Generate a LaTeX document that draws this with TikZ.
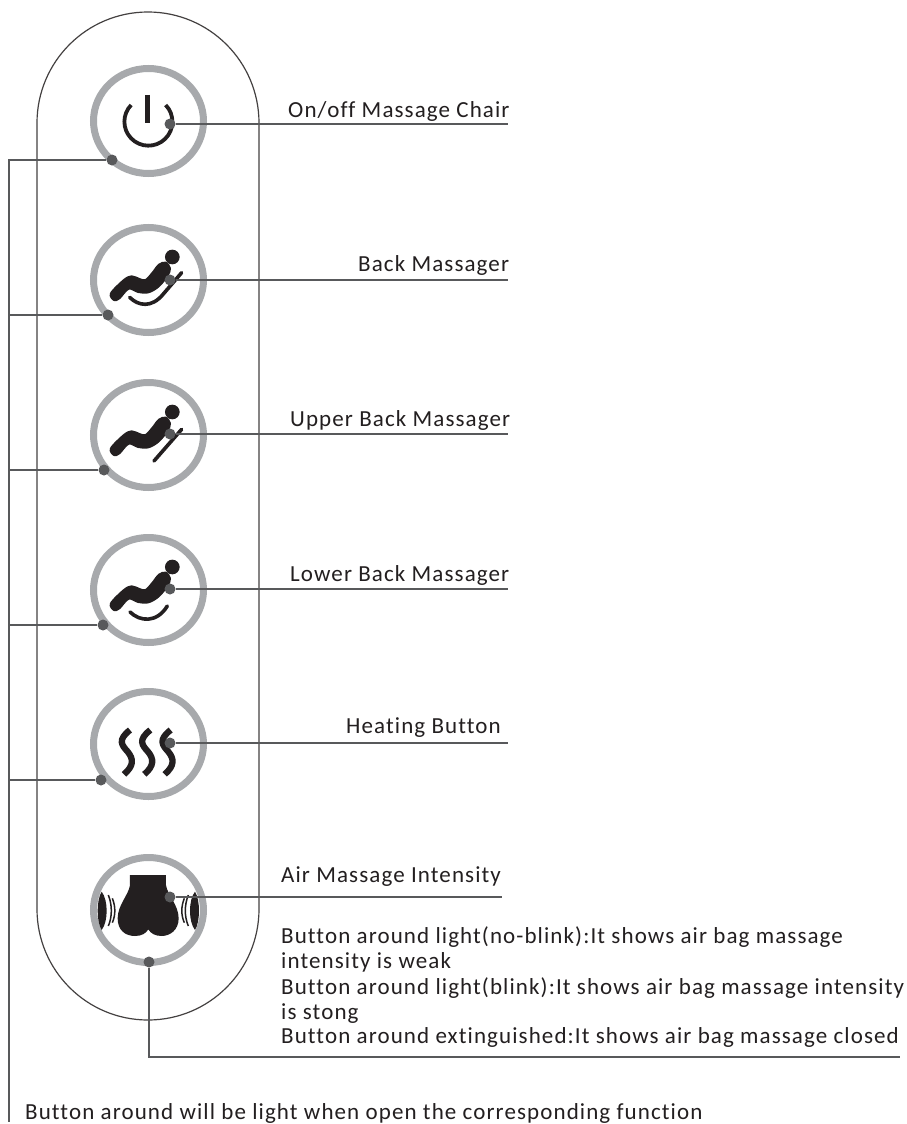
\documentclass[tikz,border=0pt]{standalone}
\usepackage{fontspec}
\usetikzlibrary{shapes.geometric}
\setmainfont{Carlito}[LetterSpace=4.8,Ligatures=NoCommon]
\definecolor{ringc}{HTML}{A7A9AC}
\definecolor{linec}{HTML}{58595B}
\definecolor{inkc}{HTML}{231F20}
\tikzset{
  x=1pt,y=-1pt,
  ring/.style={ellipse,draw=ringc,line width=7pt,minimum width=110pt,minimum height=105pt,inner sep=0pt,fill=white},
  dot/.style={circle,fill=linec,minimum size=11pt,inner sep=0pt},
  lead/.style={draw=linec,line width=1.8pt},
  shell/.style={draw=inkc!85!white,line width=1.2pt},
  lab/.style={anchor=base west,inner sep=0pt,font=\fontsize{23}{25}\selectfont,text=inkc},
  inkl/.style={draw=inkc,line cap=round},
  zoomed/.style={x=0.3333pt,y=-0.3333pt}
}
\newcommand{\chairbody}{\fill[inkc,draw=inkc,line width=2pt,line join=round] plot[smooth cycle,tension=0.55] coordinates {(93,190) (132,150) (155,139) (178,147) (197,150) (218,128) (237,104) (257,98) (270,115) (262,138) (235,170) (205,187) (175,186) (146,176) (118,205) (102,210)};
  \fill[inkc] (277,81) circle (22);}
\begin{document}
\begin{tikzpicture}
\useasboundingbox (0,0) rectangle (906,1124);
\fill[white] (0,0) rectangle (906,1124);
% shell
\draw[shell,rounded corners=111pt] (37,12) rectangle (259,1020);
% rings
\node[ring] (r1) at (148.5,121) {};
\node[ring] (r2) at (148.5,280) {};
\node[ring] (r3) at (148.5,435) {};
\node[ring] (r4) at (148.5,590) {};
\node[ring] (r5) at (148.5,744) {};
\node[ring] (r6) at (148.5,910) {};
% power icon
\begin{scope}[shift={(80,60)},zoomed]
\draw[draw=inkc,line width=3.8pt] (257,135) arc[start angle=-44,end angle=224,radius=72];
\draw[draw=inkc,line width=4.8pt] (203,105) -- (203,190);
\end{scope}
% back massager icon
\begin{scope}[shift={(80,230)},zoomed]
\chairbody
\draw[inkl,line width=3.6pt] (149,202) .. controls (175,228) and (215,235) .. (250,192) -- (305,128);
\end{scope}
% upper back icon
\begin{scope}[shift={(80,385)},zoomed]
\chairbody
\draw[inkl,line width=3.6pt] (222,228) -- (305,133);
\end{scope}
% lower back icon
\begin{scope}[shift={(80,540)},zoomed]
\chairbody
\draw[inkl,line width=3.6pt] (150,216) .. controls (180,245) and (230,250) .. (262,198);
\end{scope}
% heating icon
\begin{scope}[shift={(80,695)},zoomed]
\foreach \dx in {0,61,122}{
\draw[draw=inkc,line width=6.3pt,xshift=\dx*0.3333pt] (150,105) .. controls (112,135) and (125,150) .. (143,170) .. controls (161,192) and (162,212) .. (132,238);
}
\end{scope}
% air icon
\begin{scope}[shift={(80,850)},zoomed]
\fill[inkc] (150,75) -- (258,75) -- (258,105) .. controls (262,135) and (296,165) .. (296,205) .. controls (296,240) and (270,258) .. (245,258) .. controls (225,258) and (212,250) .. (205,238) .. controls (198,250) and (185,258) .. (165,258) .. controls (135,258) and (113,240) .. (113,205) .. controls (113,165) and (146,135) .. (150,105) -- cycle;
\foreach \m in {1,-1}{
\begin{scope}[xshift=205*0.3333pt,xscale=\m]
\fill[inkc] (140,125) .. controls (156,150) and (156,215) .. (140,240) .. controls (120,215) and (120,150) .. (140,125) -- cycle;
\draw[inkc,line width=1.5pt] (120,135) .. controls (108,165) and (108,200) .. (120,228);
\draw[inkc,line width=1.5pt] (108,145) .. controls (98,170) and (98,195) .. (108,218);
\end{scope}
}
\end{scope}
% dots
\node[dot] (a1) at (170,124) {};
\node[dot] (a2) at (170,280) {};
\node[dot] (a3) at (170,434) {};
\node[dot] (a4) at (170,589) {};
\node[dot] (a5) at (170,743) {};
\node[dot] (a6) at (170,897) {};
\node[dot] (b1) at (112,160) {};
\node[dot] (b2) at (108,315) {};
\node[dot] (b3) at (104,470) {};
\node[dot] (b4) at (103,625) {};
\node[dot] (b5) at (101,780) {};
\node[dot] (b6) at (149,962) {};
% free ends
\coordinate (e1) at (508,124);
\coordinate (e2) at (508,280);
\coordinate (e3) at (508,434);
\coordinate (e4) at (508,589);
\coordinate (e5) at (508,743);
\coordinate (e6) at (502,897);
\coordinate (c6) at (149,1057);
\coordinate (e7) at (900,1057);
\coordinate (t1) at (9,160);
\coordinate (t2) at (9,315);
\coordinate (t3) at (9,470);
\coordinate (t4) at (9,625);
\coordinate (t5) at (9,780);
\coordinate (t6) at (9,1122);
% leaders
\draw[lead] (a1) -- (e1);
\draw[lead] (a2) -- (e2);
\draw[lead] (a3) -- (e3);
\draw[lead] (a4) -- (e4);
\draw[lead] (a5) -- (e5);
\draw[lead] (a6) -- (e6);
\draw[lead] (b6) -- (c6) -- (e7);
\draw[lead] (b1) -- (t1) -- (t6);
\draw[lead] (b2) -- (t2);
\draw[lead] (b3) -- (t3);
\draw[lead] (b4) -- (t4);
\draw[lead] (b5) -- (t5);
% labels
\node[lab] (l1) at (288,117) {On/off Massage Chair};
\node[lab] (l2) at (358,271) {Back Massager};
\node[lab] (l3) at (290,426) {Upper Back Massager};
\node[lab] (l4) at (290,581) {Lower Back Massager};
\node[lab] (l5) at (346,733) {Heating Button};
\node[lab] (l6) at (281,882) {Air Massage Intensity};
\node[lab] (n1) at (281,943) {Button around light(no-blink):It shows air bag massage};
\node[lab] (n2) at (281,968.5) {intensity is weak};
\node[lab] (n3) at (281,994) {Button around light(blink):It shows air bag massage intensity};
\node[lab] (n4) at (281,1019) {is stong};
\node[lab] (n5) at (281,1043) {Button around extinguished:It shows air bag massage closed};
\node[lab] (n6) at (25,1119) {Button around will be light when open the corresponding function};
\end{tikzpicture}
\end{document}
